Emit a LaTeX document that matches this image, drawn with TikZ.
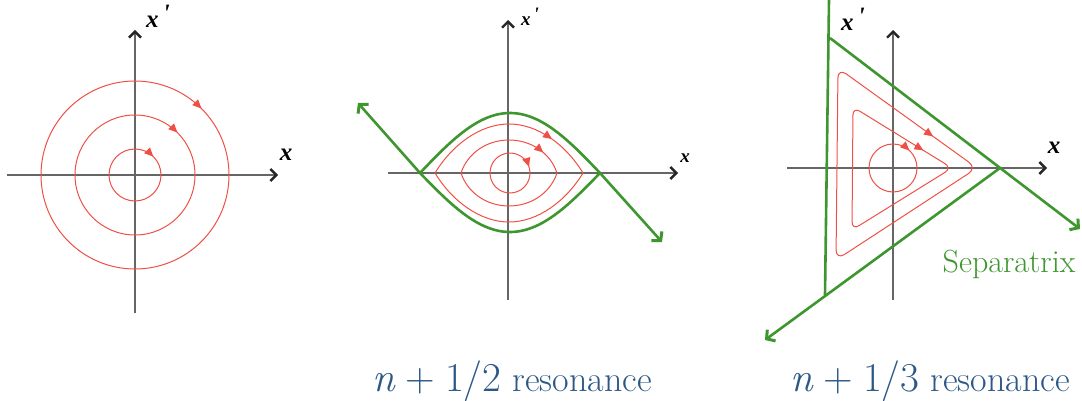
\documentclass[tikz,border=0pt]{standalone}
\usepackage{amsmath}
\usepackage{fontspec}
\usepackage{xcolor}
\usepackage{tikz}
\usetikzlibrary{arrows.meta,decorations.markings}
\newfontfamily\axisfont{Liberation Serif}
\definecolor{orbitred}{RGB}{238,80,70}
\definecolor{sepgreen}{RGB}{62,150,46}
\definecolor{capblue}{RGB}{44,88,134}
% resonance tune, set as text so that it scales
\newcommand{\tune}[1]{{\fontsize{41}{43}\selectfont\textit{n}\hspace{10pt}+\hspace{10pt}1/#1}}

\begin{document}
\begin{tikzpicture}[x=1pt, y=-1pt,
  axis/.style={draw=black!60, line width=1.6pt, -{Straight Barb[length=6pt,width=12pt,line width=2.4pt,color=black!85]}},
  orbit/.style={draw=orbitred, line width=1pt},
  flow/.style={postaction={decorate}, decoration={markings, mark=at position #1 with {\arrow[orbitred]{Triangle[length=9pt,width=8pt]}}}},
  separatrix/.style={draw=sepgreen, line width=2.6pt},
  sepend/.style={-{Straight Barb[length=6pt,width=14pt,line width=3pt]}},
  axlabel/.style={font=\axisfont\bfseries\itshape\fontsize{#1}{#1}\selectfont, inner sep=0pt},
  caption/.style={text=capblue, font=\fontsize{36}{38}\selectfont, inner sep=0pt, anchor=base}]
 \useasboundingbox (0,0) rectangle (1082,401);
 % Panel 1: linear motion, circles
 \draw[axis] (135,313) -- (135,30);
 \draw[axis] (7,175) -- (278,175);
 \foreach \r in {26,60,94}
   \draw[orbit, flow=0.125] (135,175-\r) arc[start angle=-90, delta angle=360, radius=\r];
 \node[axlabel=25] (x1) at (286,155) {x};
 \node[axlabel=25] (xp1) at (158,16) {x\,\raisebox{6pt}{'}};
 % Panel 2: half integer resonance
 \draw[axis] (508,300) -- (508,20);
 \draw[axis] (388,173) -- (678,173);
 \draw[orbit, flow=0.2] (510,153) arc[start angle=-90, delta angle=360, radius=20];
 \draw[orbit, flow=0.4] (461,173) .. controls (468,152) and (488,140) .. (509,140) .. controls (530,140) and (550,152) .. (557,173) .. controls (550,194) and (530,206) .. (509,206) .. controls (488,206) and (468,194) .. (461,173);
 \draw[orbit, flow=0.375] (435,173) .. controls (452,145) and (480,124) .. (509,124) .. controls (538,124) and (566,145) .. (583,173) .. controls (566,201) and (538,222) .. (509,222) .. controls (480,222) and (452,201) .. (435,173);
 \draw[separatrix, sepend] (600,173) sin (510,232) cos (420,173) -- (358,103);
 \draw[separatrix, sepend] (420,173) sin (510,113) cos (600,173) -- (662,242);
 \node[axlabel=19] (x2) at (685,158) {x};
 \node[axlabel=19] (xp2) at (530,17) {x\,\raisebox{5pt}{'}};
 \node[caption] (res2) at (512,391) {\tune{2} resonance};
 % Panel 3: third integer resonance
 \draw[axis] (893,300) -- (893,30);
 \draw[axis] (787,168) -- (1047,168);
 \draw[orbit, flow=0.12] (893,144) arc[start angle=-90, delta angle=360, radius=24];
 \draw[orbit, flow=0.22, rounded corners=8pt] (853,107) -- (952,168) -- (852,230) -- cycle;
 \draw[orbit, flow=0.21, rounded corners=10pt] (838,68) -- (977,168) -- (836,260) -- cycle;
 \draw[separatrix] (829,0) -- (825,295);
 \draw[separatrix, sepend] (830,38) -- (1080,229);
 \draw[separatrix, sepend] (1000,168) -- (765,340);
 \node[axlabel=25] (x3) at (1054,148) {x};
 \node[axlabel=25] (xp3) at (853,19) {x\,\raisebox{6pt}{'}};
 \node[text=sepgreen, font=\fontsize{32}{34}\selectfont, inner sep=0pt] (sep) at (1009,264) {Separatrix};
 \node[caption] (res3) at (930,391) {\tune{3} resonance};
\end{tikzpicture}
\end{document}
